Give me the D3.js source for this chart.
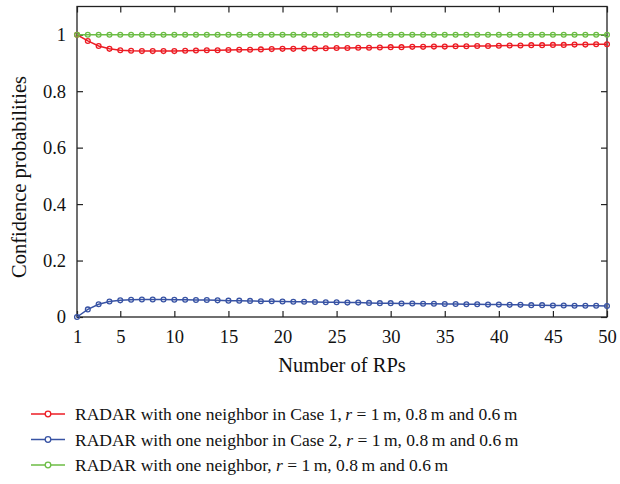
<!DOCTYPE html>
<html>
<head>
<meta charset="utf-8">
<script src="https://cdn.jsdelivr.net/npm/d3@7/dist/d3.min.js"></script>
<style>
  body { margin: 0; background: #fff; }
  svg { display: block; font-family: "Liberation Serif", "DejaVu Serif", serif; }
</style>
</head>
<body>
<svg id="chart" width="620" height="484"></svg>
<script>
// Number of reference points (RPs)
const rps = d3.range(1, 51);

// Confidence probabilities per number of RPs
const case1 = [1.000, 0.978, 0.960, 0.950, 0.945, 0.943, 0.942, 0.942, 0.942, 0.942,
               0.943, 0.944, 0.945, 0.945, 0.946, 0.947, 0.947, 0.948, 0.949, 0.950,
               0.950, 0.951, 0.951, 0.952, 0.953, 0.953, 0.954, 0.954, 0.955, 0.956,
               0.956, 0.957, 0.957, 0.958, 0.958, 0.959, 0.959, 0.960, 0.960, 0.961,
               0.962, 0.962, 0.963, 0.963, 0.964, 0.964, 0.965, 0.965, 0.966, 0.966];
const case2 = [0.000, 0.027, 0.045, 0.055, 0.059, 0.061, 0.062, 0.062, 0.062, 0.061,
               0.061, 0.060, 0.060, 0.059, 0.058, 0.058, 0.057, 0.056, 0.056, 0.055,
               0.054, 0.054, 0.053, 0.052, 0.052, 0.051, 0.051, 0.050, 0.049, 0.049,
               0.048, 0.048, 0.047, 0.047, 0.046, 0.046, 0.045, 0.045, 0.044, 0.044,
               0.043, 0.043, 0.042, 0.042, 0.041, 0.041, 0.040, 0.040, 0.040, 0.039];
const plain = rps.map(() => 1.0);

const xTicks = [1, 5, 10, 15, 20, 25, 30, 35, 40, 45, 50];
const yTicks = [0, 0.2, 0.4, 0.6, 0.8, 1];

const seriesNames = [
  ["RADAR with one neighbor in Case 1,\u2009", "r", " = 1\u2009m, 0.8\u2009m and 0.6\u2009m"],
  ["RADAR with one neighbor in Case 2, ", "r", " = 1\u2009m, 0.8\u2009m and 0.6\u2009m"],
  ["RADAR with one neighbor, ", "r", " = 1\u2009m, 0.8\u2009m and 0.6\u2009m"]
];
const seriesColors = ["#ec1c24", "#3853a4", "#6cbd45"];
const seriesValues = [case1, case2, plain];

const svg = d3.select("#chart");
const m = { left: 77, right: 607, top: 6.5, bottom: 317 };

const x = d3.scaleLinear().domain([1, 50]).range([m.left, m.right]);
const y = d3.scaleLinear().domain([0, 1.1]).range([m.bottom, m.top]);

const axisColor = "#222";
const tickLen = 6;

// Frame
svg.append("rect")
  .attr("x", m.left).attr("y", m.top)
  .attr("width", m.right - m.left).attr("height", m.bottom - m.top)
  .attr("fill", "none").attr("stroke", axisColor).attr("stroke-width", 1.3);

// Axes with inward ticks
const styleAxis = g => {
  g.select(".domain").remove();
  g.selectAll(".tick line").attr("stroke", axisColor).attr("stroke-width", 1.2);
  g.selectAll(".tick text").attr("fill", "#111").style("font-size", "18.5px")
    .style("font-family", "Liberation Serif, serif");
};

svg.append("g").attr("transform", `translate(0,${m.bottom})`)
  .call(d3.axisBottom(x).tickValues(xTicks).tickFormat(d3.format("d"))
        .tickSizeInner(-tickLen).tickSizeOuter(0).tickPadding(13))
  .call(styleAxis);
svg.append("g").attr("transform", `translate(0,${m.top})`)
  .call(d3.axisTop(x).tickValues(xTicks).tickFormat("").tickSizeInner(-tickLen).tickSizeOuter(0))
  .call(styleAxis);
svg.append("g").attr("transform", `translate(${m.left},0)`)
  .call(d3.axisLeft(y).tickValues(yTicks).tickFormat(d => d === 0 || d === 1 ? d3.format("d")(d) : d3.format(".1f")(d))
        .tickSizeInner(-tickLen).tickSizeOuter(0).tickPadding(11))
  .call(styleAxis);
svg.append("g").attr("transform", `translate(${m.right},0)`)
  .call(d3.axisRight(y).tickValues(yTicks).tickFormat("").tickSizeInner(-tickLen).tickSizeOuter(0))
  .call(styleAxis);

// Axis titles
svg.append("text").attr("x", 342).attr("y", 372)
  .attr("text-anchor", "middle").style("font-size", "20.5px").attr("fill", "#111")
  .text("Number of RPs");
svg.append("text").attr("transform", `translate(26,${177}) rotate(-90)`)
  .attr("text-anchor", "middle").style("font-size", "20.5px").attr("fill", "#111")
  .text("Confidence probabilities");

// Series: lines with open circle markers
const line = d3.line().x((d, i) => x(rps[i])).y(d => y(d));
[0, 1, 2].forEach(k => {
  const g = svg.append("g");
  g.append("path").datum(seriesValues[k])
    .attr("fill", "none").attr("stroke", seriesColors[k]).attr("stroke-width", 1.5)
    .attr("d", line);
  g.selectAll("circle").data(seriesValues[k]).join("circle")
    .attr("cx", (d, i) => x(rps[i])).attr("cy", d => y(d)).attr("r", 2.4)
    .attr("fill", "none").attr("stroke", seriesColors[k]).attr("stroke-width", 1.3);
});

// Legend
const legend = svg.append("g");
seriesNames.forEach((parts, k) => {
  const ly = 414 + k * 25.5;
  legend.append("line").attr("x1", 31).attr("x2", 65).attr("y1", ly).attr("y2", ly)
    .attr("stroke", seriesColors[k]).attr("stroke-width", 1.3);
  legend.append("circle").attr("cx", 48).attr("cy", ly).attr("r", 2.8)
    .attr("fill", "#fff").attr("stroke", seriesColors[k]).attr("stroke-width", 1.3);
  const t = legend.append("text").attr("x", 75).attr("y", ly + 6)
    .style("font-size", "17.5px").attr("fill", "#111");
  t.append("tspan").text(parts[0]);
  t.append("tspan").style("font-style", "italic").text(parts[1]);
  t.append("tspan").text(parts[2]);
});
</script>
</body>
</html>
